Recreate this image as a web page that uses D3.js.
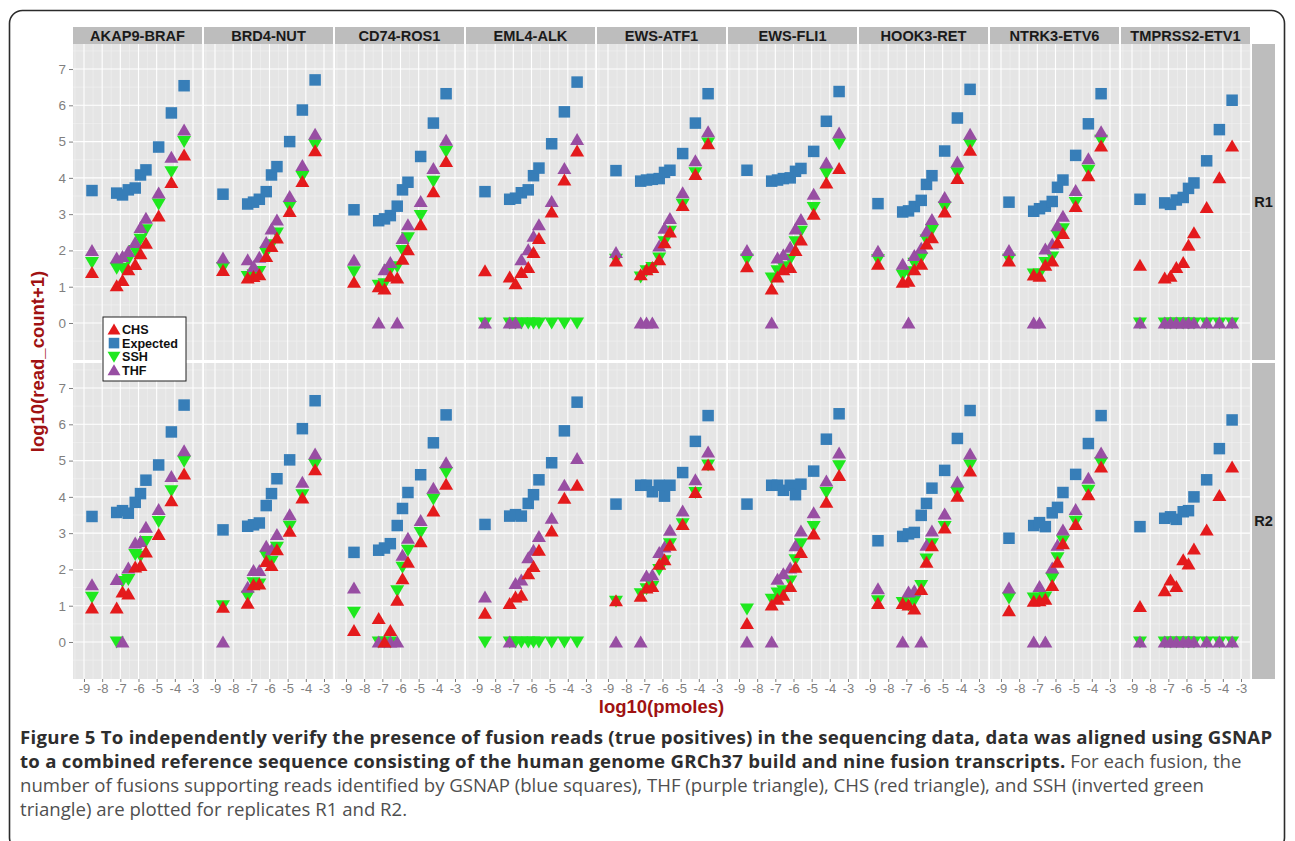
<!DOCTYPE html>
<html>
<head>
<meta charset="utf-8">
<script src="https://cdn.jsdelivr.net/npm/d3@7"></script>
<style>
  body { margin: 0; background: #fff; }
  svg text { font-family: "Liberation Sans", Arial, sans-serif; }
  .caption { font-family: "Open Sans", "Noto Sans", sans-serif !important; }
</style>
</head>
<body>
<svg id="chart" width="1295" height="841"></svg>
<script>
// ---- data ----
const fusions = ["AKAP9-BRAF", "BRD4-NUT", "CD74-ROS1", "EML4-ALK", "EWS-ATF1",
                 "EWS-FLI1", "HOOK3-RET", "NTRK3-ETV6", "TMPRSS2-ETV1"];
const replicates = ["R1", "R2"];
const logPmoles = [-8.56, -7.2, -6.88, -6.56, -6.18, -5.89, -5.59, -4.89, -4.19, -3.49];
const seriesNames = ["CHS", "Expected", "SSH", "THF"];
const seriesColors = {CHS: "#e41a1c", Expected: "#377eb8", SSH: "#1ee81e", THF: "#984ea3"};
const xTicks = [-9, -8, -7, -6, -5, -4, -3];
const yTicks = [0, 1, 2, 3, 4, 5, 6, 7];
const zeros = [0, 0, 0, 0, 0, 0, 0, 0, 0, 0];

const expectedR1 = [
  [3.65, 3.58, 3.53, 3.67, 3.72, 4.08, 4.22, 4.85, 5.79, 6.54],
  [3.55, 3.28, 3.33, 3.41, 3.62, 4.08, 4.31, 5.0, 5.87, 6.7],
  [3.12, 2.82, 2.87, 2.96, 3.22, 3.67, 3.88, 4.59, 5.51, 6.32],
  [3.62, 3.41, 3.44, 3.59, 3.67, 4.06, 4.27, 4.94, 5.82, 6.64],
  [4.2, 3.91, 3.94, 3.96, 3.98, 4.15, 4.21, 4.67, 5.51, 6.32],
  [4.21, 3.91, 3.94, 3.98, 4.0, 4.18, 4.26, 4.73, 5.56, 6.38],
  [3.29, 3.06, 3.09, 3.21, 3.38, 3.82, 4.06, 4.74, 5.65, 6.44],
  [3.33, 3.08, 3.15, 3.22, 3.35, 3.74, 3.94, 4.62, 5.49, 6.32],
  [3.41, 3.31, 3.27, 3.39, 3.46, 3.71, 3.86, 4.47, 5.33, 6.14]
];
const chsR1 = [
  [1.39, 1.03, 1.17, 1.47, 1.61, 1.91, 2.2, 2.95, 3.87, 4.63],
  [1.45, 1.24, 1.28, 1.33, 1.83, 2.11, 2.34, 3.07, 3.9, 4.75],
  [1.12, 1.0, 0.94, 1.29, 1.24, 1.76, 2.02, 2.71, 3.62, 4.45],
  [1.44, 1.27, 1.08, 1.39, 1.53, 1.94, 2.33, 3.06, 3.94, 4.74],
  [1.71, 1.33, 1.47, 1.53, 1.74, 2.21, 2.51, 3.24, 4.09, 4.94],
  [1.55, 0.94, 1.27, 1.47, 1.53, 2.0, 2.29, 3.0, 3.86, 4.26],
  [1.62, 1.12, 1.15, 1.47, 1.62, 2.18, 2.35, 3.06, 3.98, 4.76],
  [1.71, 1.32, 1.29, 1.59, 1.71, 2.21, 2.47, 3.21, 4.06, 4.88],
  [1.59, 1.24, 1.29, 1.53, 1.67, 2.14, 2.49, 3.18, 4.0, 4.88]
];
const sshR1 = [
  [1.67, 1.51, 1.51, 1.74, 2.0, 2.31, 2.57, 3.28, 4.17, 5.0],
  [1.53, 1.28, 1.33, 1.42, 1.93, 2.16, 2.48, 3.21, 4.04, 4.91],
  [1.41, 1.04, 1.08, 1.47, 1.55, 2.0, 2.35, 2.96, 3.91, 4.73],
  zeros,
  [1.76, 1.27, 1.44, 1.53, 1.79, 2.24, 2.53, 3.27, 4.14, 4.96],
  [1.76, 1.24, 1.44, 1.55, 1.76, 2.24, 2.53, 3.18, 4.12, 4.94],
  [1.74, 1.32, 1.41, 1.65, 1.79, 2.29, 2.56, 3.2, 4.14, 4.92],
  [1.76, 1.35, 1.35, 1.67, 1.82, 2.41, 2.6, 3.32, 4.21, 5.04],
  zeros
];
const thfR1 = [
  [2.0, 1.79, 1.83, 1.97, 2.22, 2.63, 2.89, 3.58, 4.57, 5.32],
  [1.79, 1.74, 1.56, 1.81, 2.22, 2.59, 2.84, 3.49, 4.34, 5.2],
  [1.73, 0, 1.47, 1.67, 0, 2.33, 2.71, 3.35, 4.26, 5.04],
  [0, 0, 0, 1.74, 2.02, 2.39, 2.71, 3.35, 4.26, 5.06],
  [1.94, 0, 0, 0, 2.12, 2.61, 2.88, 3.59, 4.47, 5.27],
  [2.0, 0, 1.79, 1.88, 2.09, 2.59, 2.85, 3.55, 4.41, 5.24],
  [1.98, 1.62, 0, 1.86, 2.06, 2.53, 2.85, 3.46, 4.44, 5.2],
  [2.0, 0, 0, 2.04, 2.18, 2.68, 2.94, 3.65, 4.53, 5.27],
  zeros
];

const expectedR2 = [
  [3.46, 3.57, 3.62, 3.55, 3.85, 4.09, 4.46, 4.88, 5.79, 6.53],
  [3.09, 3.19, 3.23, 3.28, 3.76, 4.09, 4.5, 5.02, 5.88, 6.65],
  [2.47, 2.53, 2.59, 2.71, 3.21, 3.68, 4.12, 4.61, 5.49, 6.26],
  [3.24, 3.47, 3.51, 3.47, 3.82, 4.06, 4.47, 4.94, 5.82, 6.61],
  [3.8, 4.32, 4.32, 4.14, 4.32, 4.02, 4.32, 4.67, 5.53, 6.24],
  [3.8, 4.32, 4.32, 4.18, 4.32, 4.06, 4.35, 4.71, 5.59, 6.29],
  [2.79, 2.91, 2.98, 3.02, 3.49, 3.82, 4.24, 4.73, 5.61, 6.38],
  [2.86, 3.21, 3.29, 3.18, 3.56, 3.71, 4.12, 4.62, 5.47, 6.24],
  [3.18, 3.41, 3.45, 3.38, 3.59, 3.62, 4.0, 4.47, 5.33, 6.12]
];
const chsR2 = [
  [0.94, 0.94, 1.38, 1.32, 2.07, 2.11, 2.48, 2.96, 3.89, 4.63],
  [0.96, 1.07, 1.58, 1.6, 2.22, 2.11, 2.54, 3.05, 3.97, 4.75],
  [0.32, 0.65, 0, 0.32, 1.15, 1.74, 2.2, 2.76, 3.61, 4.35],
  [0.79, 1.06, 1.24, 1.29, 1.88, 2.08, 2.53, 3.06, 3.96, 4.32],
  [1.14, 1.26, 1.49, 1.53, 2.14, 2.27, 2.67, 3.24, 4.12, 4.88],
  [0.51, 1.02, 1.18, 1.29, 1.53, 2.06, 2.47, 2.98, 3.85, 4.59],
  [1.06, 1.06, 1.02, 0.91, 1.45, 2.2, 2.65, 3.14, 4.02, 4.71],
  [0.86, 1.12, 1.14, 1.18, 1.56, 2.2, 2.71, 3.24, 4.06, 4.82],
  [0.98, 1.41, 1.71, 1.53, 2.27, 2.15, 2.56, 3.09, 4.04, 4.82]
];
const sshR2 = [
  [1.23, 0, 1.67, 1.72, 2.41, 2.36, 2.77, 3.32, 4.17, 4.98],
  [1.0, 1.26, 1.63, 1.6, 2.36, 2.22, 2.61, 3.19, 4.06, 4.89],
  [0.82, 0, 0, 0, 1.41, 2.06, 2.53, 3.02, 3.94, 4.67],
  zeros,
  [1.12, 1.33, 1.47, 1.53, 2.0, 2.24, 2.71, 3.26, 4.12, 4.88],
  [0.91, 1.18, 1.35, 1.41, 1.68, 2.27, 2.71, 3.18, 4.12, 4.86],
  [1.14, 1.09, 1.02, 1.14, 1.56, 2.29, 2.71, 3.18, 4.12, 4.88],
  [1.21, 1.21, 1.21, 1.24, 1.76, 2.32, 2.79, 3.33, 4.18, 4.94],
  zeros
];
const thfR2 = [
  [1.58, 1.72, 0, 2.04, 2.73, 2.77, 3.16, 3.65, 4.56, 5.27],
  [0, 1.51, 1.97, 1.97, 2.64, 2.54, 2.96, 3.51, 4.4, 5.18],
  [1.49, 0, 0, 0, 0, 2.39, 2.86, 3.35, 4.24, 4.94],
  [1.24, 0, 1.61, 1.71, 2.32, 2.53, 2.91, 3.41, 4.32, 5.06],
  [0, 0, 1.82, 1.85, 2.47, 2.62, 3.08, 3.61, 4.47, 5.24],
  [0, 0, 1.73, 1.88, 2.04, 2.65, 3.06, 3.56, 4.44, 5.21],
  [1.47, 0, 1.38, 1.41, 0, 2.67, 3.06, 3.53, 4.41, 5.18],
  [1.49, 0, 1.53, 0, 2.04, 2.67, 3.09, 3.65, 4.51, 5.21],
  zeros
];

const captionLines = [
  [{t: "Figure 5 To independently verify the presence of fusion reads (true positives) in the sequencing data, data was aligned using GSNAP", b: true}],
  [{t: "to a combined reference sequence consisting of the human genome GRCh37 build and nine fusion transcripts.", b: true},
   {t: " For each fusion, the", b: false}],
  [{t: "number of fusions supporting reads identified by GSNAP (blue squares), THF (purple triangle), CHS (red triangle), and SSH (inverted green", b: false}],
  [{t: "triangle) are plotted for replicates R1 and R2.", b: false}]
];

// ---- layout ----
const left = 73, panelW = 129, panelStep = 131,
      stripTop = 27, stripH = 17,
      rowTops = [44, 363], panelH = 316,
      rightStripW = 23;

const svg = d3.select("#chart");
const dataBySeries = {
  R1: {CHS: chsR1, Expected: expectedR1, SSH: sshR1, THF: thfR1},
  R2: {CHS: chsR2, Expected: expectedR2, SSH: sshR2, THF: thfR2}
};

// rounded frame
svg.append("rect")
  .attr("x", 9.5).attr("y", 10.5).attr("width", 1275).attr("height", 840)
  .attr("rx", 13).attr("fill", "none").attr("stroke", "#2b2b2b").attr("stroke-width", 1.6);

const x = d3.scaleLinear().domain([-9.605, -2.505]).range([0, panelW]);
const y = d3.scaleLinear().domain([-1.02, 7.69]).range([panelH, 0]);

const triUp = "M0,-6.5L7,5.5L-7,5.5Z";
const triDown = "M0,6.5L7,-5.5L-7,-5.5Z";
function drawMark(g, series, cx, cy, scale) {
  scale = scale || 1;
  const col = seriesColors[series];
  if (series === "Expected") {
    const s = 11.5 * scale;
    g.append("rect").attr("x", cx - s / 2).attr("y", cy - s / 2)
      .attr("width", s).attr("height", s).attr("fill", col);
  } else {
    g.append("path").attr("d", series === "SSH" ? triDown : triUp)
      .attr("transform", `translate(${cx},${cy}) scale(${scale})`)
      .attr("fill", col);
  }
}

const drawOrder = ["SSH", "THF", "CHS", "Expected"];

fusions.forEach((f, fi) => {
  const px = left + fi * panelStep;
  // strip on top
  svg.append("rect").attr("x", px).attr("y", stripTop).attr("width", panelW).attr("height", stripH)
    .attr("fill", "#bdbdbd");
  svg.append("text").attr("x", px + panelW / 2).attr("y", stripTop + 13.5)
    .attr("text-anchor", "middle").attr("font-weight", "bold").attr("font-size", 14.6)
    .attr("fill", "#1a1a1a").text(f);

  replicates.forEach((r, ri) => {
    const g = svg.append("g").attr("transform", `translate(${px},${rowTops[ri]})`);
    g.append("rect").attr("width", panelW).attr("height", panelH).attr("fill", "#e5e5e5");
    // minor grid
    d3.range(-9.5, -2.4, 1).forEach(v => g.append("line")
      .attr("x1", x(v)).attr("x2", x(v)).attr("y1", 0).attr("y2", panelH)
      .attr("stroke", "#f2f2f2").attr("stroke-width", 0.6));
    d3.range(-0.5, 7.6, 1).forEach(v => g.append("line")
      .attr("x1", 0).attr("x2", panelW).attr("y1", y(v)).attr("y2", y(v))
      .attr("stroke", "#f2f2f2").attr("stroke-width", 0.6));
    // major grid
    xTicks.forEach(v => g.append("line")
      .attr("x1", x(v)).attr("x2", x(v)).attr("y1", 0).attr("y2", panelH)
      .attr("stroke", "#fff").attr("stroke-width", 1.1));
    yTicks.forEach(v => g.append("line")
      .attr("x1", 0).attr("x2", panelW).attr("y1", y(v)).attr("y2", y(v))
      .attr("stroke", "#fff").attr("stroke-width", 1.1));

    drawOrder.forEach(s => {
      dataBySeries[r][s][fi].forEach((val, i) => {
        drawMark(g, s, x(logPmoles[i]), y(val));
      });
    });

    // y axis on the first column
    if (fi === 0) {
      const ya = svg.append("g").attr("transform", `translate(${left},${rowTops[ri]})`)
        .call(d3.axisLeft(y).tickValues(yTicks).tickSize(4).tickPadding(3));
      ya.select(".domain").remove();
      ya.selectAll("line").attr("stroke", "#7f7f7f");
      ya.selectAll("text").attr("fill", "#7f7f7f").attr("font-size", 13.5)
        .attr("font-family", "Liberation Sans, Arial, sans-serif");
    }
    // right strip
    if (fi === fusions.length - 1) {
      svg.append("rect").attr("x", px + panelW + 2).attr("y", rowTops[ri])
        .attr("width", rightStripW).attr("height", panelH).attr("fill", "#bdbdbd");
      svg.append("text").attr("x", px + panelW + 2 + rightStripW / 2).attr("y", rowTops[ri] + panelH / 2 + 5)
        .attr("text-anchor", "middle").attr("font-weight", "bold").attr("font-size", 14.6)
        .attr("fill", "#1a1a1a").text(r);
    }
  });

  // x axis under the bottom row
  const xa = svg.append("g").attr("transform", `translate(${px},${rowTops[1] + panelH})`)
    .call(d3.axisBottom(x).tickValues(xTicks).tickFormat(d => String(d)).tickSize(3).tickPadding(2));
  xa.select(".domain").remove();
  xa.selectAll("line").attr("stroke", "#7f7f7f");
  xa.selectAll("text").attr("fill", "#7f7f7f").attr("font-size", 13)
    .attr("font-family", "Liberation Sans, Arial, sans-serif");
});

// axis titles
const titleColor = "#a01212";
svg.append("text").attr("x", left + (fusions.length * panelStep - 2) / 2).attr("y", 713)
  .attr("text-anchor", "middle").attr("font-weight", "bold").attr("font-size", 18.5)
  .attr("fill", titleColor).text("log10(pmoles)");
svg.append("text").attr("transform", `translate(44,${(rowTops[0] + rowTops[1] + panelH) / 2}) rotate(-90)`)
  .attr("text-anchor", "middle").attr("font-weight", "bold").attr("font-size", 18.5)
  .attr("fill", titleColor).text("log10(read_count+1)");

// legend
const lg = svg.append("g").attr("transform", "translate(103,317)");
lg.append("rect").attr("width", 83).attr("height", 64).attr("fill", "#fff")
  .attr("stroke", "#222").attr("stroke-width", 1);
seriesNames.forEach((s, i) => {
  const cy = 12.5 + i * 13.6;
  drawMark(lg, s, 11, cy, 0.92);
  lg.append("text").attr("x", 19).attr("y", cy + 4.5).attr("font-weight", "bold")
    .attr("font-size", 12.6).attr("fill", "#111").text(s);
});

// caption
captionLines.forEach((line, li) => {
  const t = svg.append("text").attr("class", "caption").attr("x", 20).attr("y", 744 + li * 24)
    .attr("font-size", 18.6);
  line.forEach(seg => t.append("tspan")
    .attr("font-weight", seg.b ? "bold" : "normal")
    .attr("letter-spacing", seg.b ? 0.27 : 0)
    .attr("fill", seg.b ? "#2e2e2e" : "#4f4f4f")
    .text(seg.t));
});
</script>
</body>
</html>
